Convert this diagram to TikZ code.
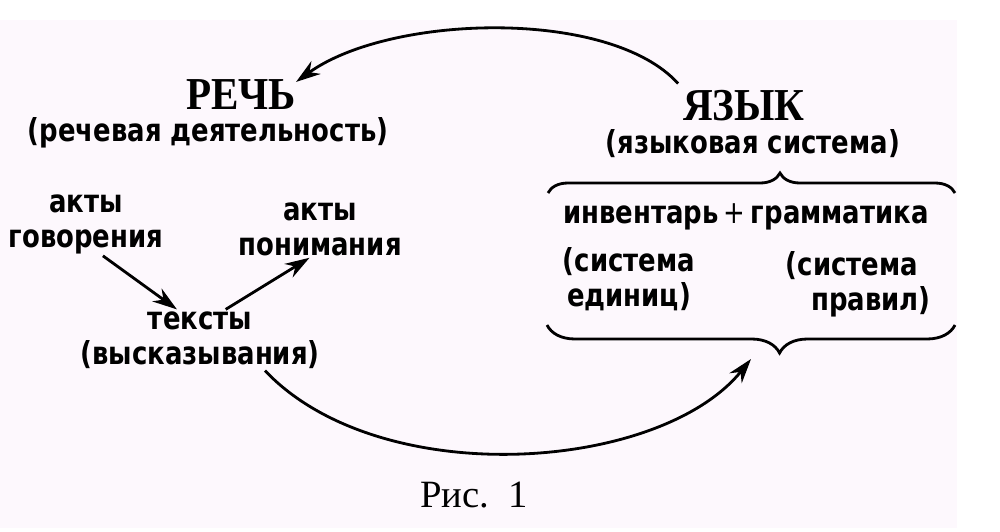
\documentclass[tikz,border=0pt]{standalone}
\usepackage{fontspec}
\setmainfont{Liberation Serif}
\newfontfamily\bodyfont{DejaVu Sans}[FakeStretch=0.82]
\newfontfamily\headfont{Liberation Serif}[FakeStretch=0.9]
\usetikzlibrary{positioning}
\usetikzlibrary{arrows.meta,decorations.pathreplacing}
\definecolor{pagetint}{RGB}{253,248,253}

\begin{document}
\begin{tikzpicture}[x=0.02cm,y=-0.02cm,node distance=2pt,
  >={Stealth[length=14pt,width=9pt]},
  word/.style={font=\bodyfont\bfseries\fontsize{18}{20}\selectfont,align=center,inner sep=1pt},
  head/.style={font=\headfont\bfseries\fontsize{26}{28}\selectfont,inner sep=1pt},
  link/.style={->,line width=1.6pt},
  bracket/.style={decorate,line width=1.6pt}]
\useasboundingbox (0,0) rectangle (1000,531);
\fill[pagetint] (0,20) rectangle (957,528);

\node[head] (rech) at (241,95) {РЕЧЬ};
\node[word,below=of rech,xshift=-0.66cm] (rechd) {(речевая деятельность)};

\node[head] (yazyk) at (744,106) {ЯЗЫК};
\node[word,below=of yazyk,xshift=0.18cm] (yazykd) {(языковая система)};

\node[word] (govor) at (86,224) {акты\\говорения};
\node[word] (ponim) at (320,229) {акты\\понимания};
\node[word] (teksty) at (200,340) {тексты\\(высказывания)};

\draw[link] (govor.-62) -- (teksty.127);
\draw[link] (teksty.50) -- (ponim.-110);

% language system in braces
\draw[bracket,decoration={brace,amplitude=0.4cm,aspect=0.57}] (548,193) -- (955,193);
\node[word] (invent) at (746,217) {инвентарь\,{\mdseries+}\,грамматика};
\node[word] (edin) at (629,279) {(система\\единиц)};
\node[word] (pravil) at (852,284) {(система\\\hspace*{1.2em}правил)};
\draw[bracket,decoration={brace,amplitude=0.56cm,aspect=0.43}] (955,325) -- (547,325);
\coordinate (bracetip) at (751,359);

\draw[link] ([shift={(-3,-5)}]yazyk.north west) .. controls (610,8) and (390,14) .. ([shift={(-2,4)}]rech.north east);
\draw[link] ([xshift=1.3cm]teksty.south) .. controls (380,492) and (660,472) .. (bracetip);

\node[font=\fontsize{22}{24}\selectfont] (ris) at (474,495) {Рис.\ \ 1};
\end{tikzpicture}
\end{document}
